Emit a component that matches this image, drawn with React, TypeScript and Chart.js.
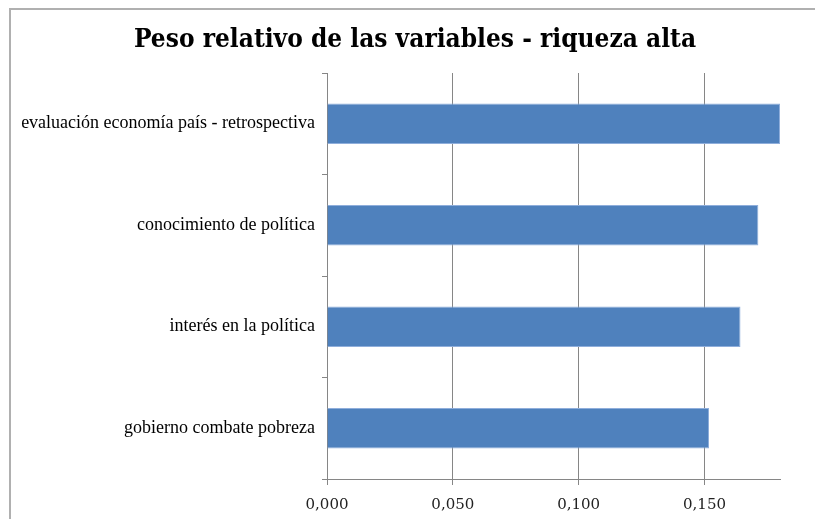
import React, { useEffect, useRef } from "react";
import { Chart, registerables } from "chart.js";

Chart.register(...registerables);

const categories = [
  "evaluación economía país - retrospectiva",
  "conocimiento de política",
  "interés en la política",
  "gobierno combate pobreza",
];
const values = [0.18, 0.1714, 0.1643, 0.1518];
const tickStep = 0.05;
const axisMin = 0;
const axisMax = 0.18;
const titleText = "Peso relativo de las variables - riqueza alta";

const titlePlugin = {
  id: "offsetTitle",
  afterDraw(chart: any) {
    const ctx = chart.ctx;
    ctx.save();
    ctx.font = "bold 26px 'DejaVu Serif Condensed', 'Liberation Serif', serif";
    ctx.fillStyle = "#000";
    ctx.textAlign = "center";
    ctx.textBaseline = "middle";
    ctx.fillText(titleText, 415, 40);
    ctx.restore();
  },
};

export default function App() {
  const ref = useRef<HTMLCanvasElement | null>(null);

  useEffect(() => {
    if (!ref.current) return;
    const chart = new Chart(ref.current, {
      type: "bar",
      data: {
        labels: categories,
        datasets: [
          {
            data: values,
            backgroundColor: "#4F81BD",
            borderColor: "#8FAEDB",
            borderWidth: 1,
            barPercentage: 0.4,
            categoryPercentage: 1,
          },
        ],
      },
      plugins: [titlePlugin],
      options: {
        indexAxis: "y",
        animation: false,
        responsive: false,
        maintainAspectRatio: false,
        layout: { padding: { left: 0, right: 35, top: 73, bottom: 0 } },
        plugins: {
          legend: { display: false },
          tooltip: { enabled: false },
          title: { display: false },
        },
        scales: {
          x: {
            type: "linear",
            min: axisMin,
            max: axisMax,
            ticks: {
              stepSize: tickStep,
              color: "#222",
              padding: 11,
              font: { family: "'DejaVu Serif', serif", size: 15 },
              callback: (v: any) => Number(v).toFixed(3).replace(".", ","),
            },
            afterBuildTicks: (s: any) => {
              s.ticks = s.ticks.filter(
                (t: any) => Math.abs(t.value / tickStep - Math.round(t.value / tickStep)) < 1e-6
              );
            },
            afterFit: (s: any) => {
              s.height = 40;
            },
            grid: { color: "#868686", lineWidth: 1, drawTicks: true, tickLength: 6 },
            border: { color: "#868686", width: 1 },
          },
          y: {
            type: "category",
            ticks: {
              color: "#000",
              padding: 7,
              font: { family: "'Liberation Serif', serif", size: 18 },
            },
            afterFit: (s: any) => {
              s.width = 327;
            },
            grid: {
              offset: true,
              drawOnChartArea: false,
              drawTicks: true,
              tickLength: 5,
              color: "#868686",
            },
            border: { color: "#868686", width: 1 },
          },
        },
      },
    });
    return () => chart.destroy();
  }, []);

  return (
    <div
      style={{
        position: "fixed",
        left: 0,
        top: 0,
        width: 815,
        height: 519,
        overflow: "hidden",
        background: "#fff",
      }}
    >
      <div
        style={{
          position: "absolute",
          left: 9,
          top: 8,
          width: 815 - 9,
          height: 519 - 8,
          borderLeft: "2px solid #b0b0b0",
          borderTop: "2px solid #b0b0b0",
          boxSizing: "border-box",
        }}
      />
      <canvas
        ref={ref}
        width={815}
        height={519}
        style={{ position: "absolute", left: 0, top: 0, width: 815, height: 519 }}
      />
    </div>
  );
}
